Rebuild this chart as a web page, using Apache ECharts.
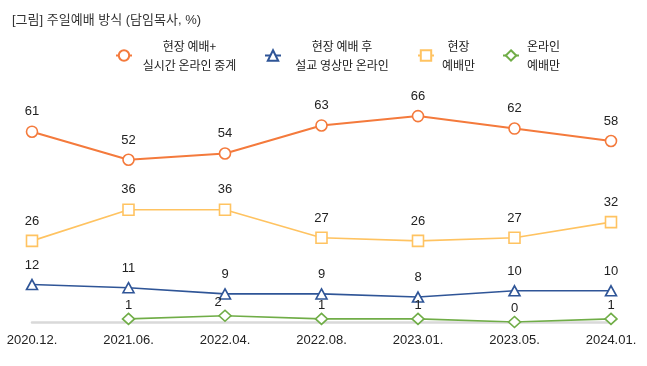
<!DOCTYPE html>
<html><head><meta charset="utf-8">
<script src="https://cdn.jsdelivr.net/npm/echarts@6/dist/echarts.min.js"></script>
<style>html,body{margin:0;padding:0;background:#fff}#c{width:647px;height:366px}</style>
</head><body><div id="c"></div>
<script>
var categories = ['2020.12.', '2021.06.', '2022.04.', '2022.08.', '2023.01.', '2023.05.', '2024.01.'];
var seriesNames = ['현장 예배+\n실시간 온라인 중계', '현장 예배 후\n설교 영상만 온라인', '현장\n예배만', '온라인\n예배만'];
var liveStream = [61, 52, 54, 63, 66, 62, 58];
var sermonOnline = [12, 11, 9, 9, 8, 10, 10];
var onsiteOnly = [26, 36, 36, 27, 26, 27, 32];
var onlineOnly = [null, 1, 2, 1, 1, 0, 1];

var FONT = '"Liberation Sans", "Noto Sans CJK KR", sans-serif';
var LFONT = '"Noto Sans CJK KR", sans-serif';
var colors = ['#F47A3C', '#2F5597', '#FFC361', '#70AD47'];
var symbols = ['circle', 'triangle', 'rect', 'diamond'];
var symSizes = [11, [11, 10], 11, [12, 11]];
var labelDist = [7, 7, 7, 1];
var dataSets = [liveStream, sermonOnline, onsiteOnly, onlineOnly];
var legendLeft = [110, 259, 412, 497];
var legendTextW = [105, 112, 39, 39];

var chart = echarts.init(document.getElementById('c'));
var legends = seriesNames.map(function (n, i) {
  return {
    data: [n], left: legendLeft[i], top: 35, orient: 'horizontal',
    itemWidth: 16, itemHeight: 13, itemGap: 5,
    formatter: function (name) {
      return name.split('\n').map(function (l) { return '{a|' + l + '}'; }).join('\n');
    },
    textStyle: {
      fontFamily: LFONT, fontSize: 12, color: '#222',
      rich: { a: { width: legendTextW[i], align: 'center', fontFamily: LFONT, fontSize: 12, color: '#222', lineHeight: 19 } }
    }
  };
});

var series = seriesNames.map(function (n, i) {
  var data = dataSets[i].map(function (v, j) {
    if (i === 3 && j === 2) return { value: v, label: { offset: [-7, 0] } };
    return v;
  });
  return {
    name: n, type: 'line', data: data,
    symbol: symbols[i], symbolSize: symSizes[i],
    itemStyle: { color: '#fff', borderColor: colors[i], borderWidth: 1.6 },
    lineStyle: { color: colors[i], width: i === 0 ? 2 : 1.6 },
    label: { show: true, position: 'top', distance: labelDist[i], fontFamily: FONT, fontSize: 13, color: '#222' },
    emphasis: { disabled: true },
    z: 2 + i,
    animation: false
  };
});

chart.setOption({
  animation: false,
  color: colors,
  title: { text: '[그림] 주일예배 방식 (담임목사, %)', left: 7, top: 9, textStyle: { fontFamily: FONT, fontSize: 13, fontWeight: 'normal', color: '#333' } },
  legend: legends,
  grid: { left: 32, right: 36, top: 103.6, bottom: 44 },
  xAxis: {
    type: 'category', data: categories, boundaryGap: false,
    axisLine: { lineStyle: { color: '#D9D9D9', width: 2.5 } },
    axisTick: { show: false },
    axisLabel: { fontFamily: FONT, fontSize: 13, color: '#222', margin: 12 }
  },
  yAxis: { type: 'value', min: 0, max: 70, show: false, splitLine: { show: false } },
  series: series
});
</script></body></html>
